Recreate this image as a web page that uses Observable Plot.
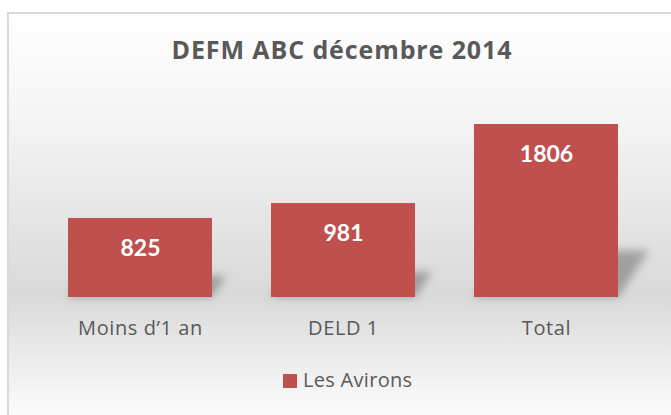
<!DOCTYPE html>
<html>
<head>
<meta charset="utf-8">
<script src="https://cdn.jsdelivr.net/npm/d3@7"></script>
<script src="https://cdn.jsdelivr.net/npm/@observablehq/plot@0.6"></script>
<style>
  html, body { margin: 0; padding: 0; width: 671px; height: 415px; overflow: hidden; background: #fff; }
  #bg { position: absolute; left: 7px; top: 12px; width: 700px; height: 414px;
        border-left: 2px solid #d9d9d9; border-top: 2px solid #d9d9d9; box-sizing: border-box;
        background: linear-gradient(to bottom, #ffffff 0%, #f5f5f5 25%, #d9d9d9 68%, #ffffff 100%); z-index: 0; }
  #wrap { position: absolute; left: 0; top: 0; width: 671px; height: 415px; z-index: 1; font-family: "Open Sans", sans-serif; }
  #title { height: 80px; box-sizing: border-box; padding-top: 37px; padding-left: 13px; text-align: center;
           font-weight: bold; font-size: 25px; line-height: 25px; letter-spacing: 0.9px; color: #595959; white-space: nowrap; }
  #chart { height: 270px; }
  #chart svg { display: block; }
  #chart g[aria-label="x-axis tick label"] { letter-spacing: 0.6px; }
  #legend { position: relative; height: 65px; }
  #legend .sw { position: absolute; left: 283px; top: 24px; width: 14px; height: 14px; }
  #legend .lb { position: absolute; left: 303px; top: 20px; font-size: 20px; line-height: 20px; letter-spacing: 0.3px; color: #595959; white-space: nowrap; }
</style>
</head>
<body>
<div id="bg"></div>
<div id="wrap">
  <div id="title"></div>
  <div id="chart"></div>
  <div id="legend"><span class="sw"></span><span class="lb"></span></div>
</div>
<script>
const titleText = "DEFM ABC décembre 2014";
const categories = ["Moins d’1 an", "DELD 1", "Total"];
const values = [825, 981, 1806];
const seriesName = "Les Avirons";
const barColor = "#C0504D";

const data = categories.map((c, i) => ({cat: c, value: values[i]}));

document.getElementById("title").textContent = titleText;
document.querySelector("#legend .sw").style.background = barColor;
document.querySelector("#legend .lb").textContent = seriesName;

const H = 270, MB = 53;
const chart = Plot.plot({
  width: 671,
  height: H,
  marginLeft: 38,
  marginRight: 22,
  marginTop: 44,
  marginBottom: MB,
  style: {background: "transparent", fontFamily: "'Open Sans', sans-serif", fontSize: "20px", color: "#595959", overflow: "visible"},
  x: {domain: categories, paddingInner: 0.29, paddingOuter: 0.145, label: null, tickSize: 0, tickPadding: 23},
  y: {domain: [0, 1806], axis: null},
  marks: [
    Plot.barY(data, {x: "cat", y: "value", fill: "#000", fillOpacity: 0.28}),
    Plot.barY(data, {x: "cat", y: "value", fill: barColor}),
    Plot.text(data, {x: "cat", y: "value", text: d => String(d.value), fill: "white", fontFamily: "Lato, sans-serif", fontWeight: "bold", fontSize: 23, lineAnchor: "top", dy: 21})
  ]
});

// perspective shadow behind the bars
const bars = chart.querySelectorAll('g[aria-label="bar"]');
if (bars.length >= 2) {
  const shadow = bars[0];
  const r = shadow.querySelector("rect");
  const base = parseFloat(r.getAttribute("y")) + parseFloat(r.getAttribute("height"));
  const ns = "http://www.w3.org/2000/svg";
  const defs = document.createElementNS(ns, "defs");
  defs.innerHTML = '<filter id="shblur" x="-50%" y="-50%" width="200%" height="200%"><feGaussianBlur stdDeviation="4"/></filter>';
  chart.insertBefore(defs, chart.firstChild);
  const wrapG = document.createElementNS(ns, "g");
  wrapG.setAttribute("filter", "url(#shblur)");
  shadow.parentNode.insertBefore(wrapG, shadow);
  wrapG.appendChild(shadow);
  shadow.setAttribute("transform", `translate(0,${base}) matrix(1,0,-0.18,0.27,0,0) translate(0,${-base})`);
}

document.getElementById("chart").appendChild(chart);
</script>
</body>
</html>
